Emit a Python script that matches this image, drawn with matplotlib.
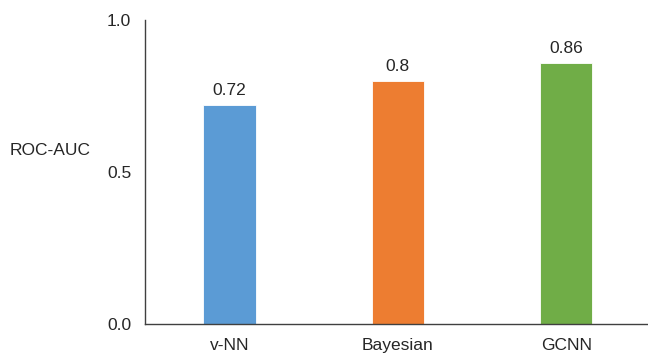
import matplotlib.pyplot as plt

plt.rcParams['font.family'] = ['Liberation Sans', 'DejaVu Sans']

# ROC-AUC per model
models = ['v-NN', 'Bayesian', 'GCNN']
roc_auc = [0.72, 0.8, 0.86]
colors = ['#5B9BD5', '#ED7D31', '#70AD47']

fig = plt.figure(figsize=(6.48, 3.53), dpi=100)
ax = fig.add_axes([0.224, 0.082, 0.78, 0.861])

bars = ax.bar(range(len(models)), roc_auc, width=0.31, color=colors,
              edgecolor='white', linewidth=0.6)

for rect, val in zip(bars, roc_auc):
    ax.annotate(f'{val:g}', (rect.get_x() + rect.get_width() / 2, val),
                xytext=(0, 5), textcoords='offset points',
                ha='center', va='bottom', fontsize=12.5, color='#262626')

ax.set_xlim(-0.5, 2.5)
ax.set_ylim(0, 1.0)
ax.set_yticks([0.0, 0.5, 1.0])
ax.set_yticklabels(['0.0', '0.5', '1.0'])
ax.set_xticks(range(len(models)))
ax.set_xticklabels(models)
ax.tick_params(axis='y', length=0, pad=10, labelsize=12.5, labelcolor='#262626')
ax.tick_params(axis='x', length=0, pad=10, labelsize=12.5, labelcolor='#262626')

for side in ['top', 'right']:
    ax.spines[side].set_visible(False)
for side in ['left', 'bottom']:
    ax.spines[side].set_color('#404040')
    ax.spines[side].set_linewidth(1.0)

fig.text(0.015, 0.575, 'ROC-AUC', fontsize=12.5, color='#262626',
         ha='left', va='center')

fig.savefig('out.png', dpi=100)
